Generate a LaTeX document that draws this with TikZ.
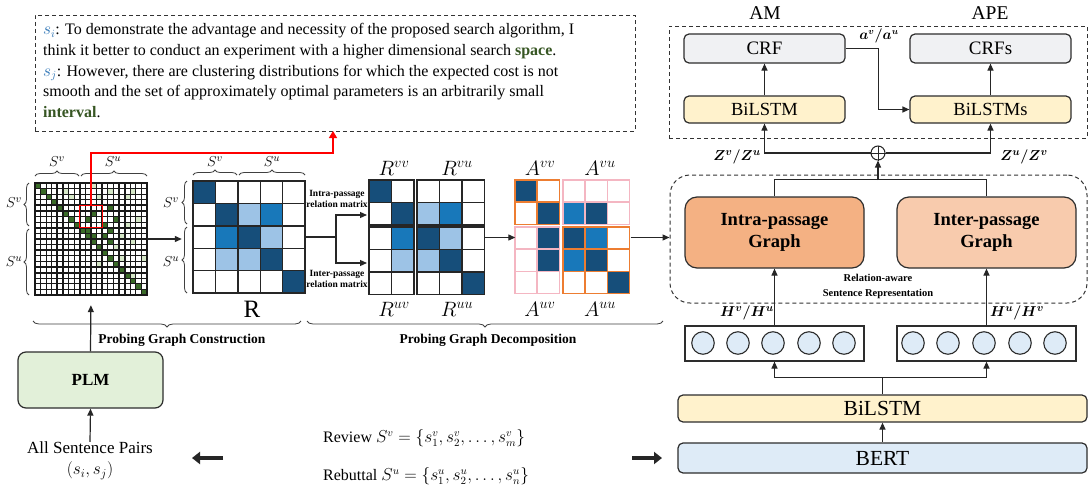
\documentclass[tikz,border=0pt]{standalone}
\usepackage{fontspec}
\setmainfont{Liberation Serif}
\usepackage{bm}
\usetikzlibrary{arrows.meta,decorations.pathreplacing,calc}

\definecolor{dkblue}{RGB}{22,78,122}
\definecolor{mdblue}{RGB}{24,120,186}
\definecolor{ltblue}{RGB}{157,195,230}
\definecolor{gridgreen}{RGB}{58,107,40}
\definecolor{palegreen}{RGB}{214,232,200}
\definecolor{aorange}{RGB}{237,125,49}
\definecolor{apink}{RGB}{244,182,194}
\definecolor{crfgray}{RGB}{240,241,243}
\definecolor{lstmyellow}{RGB}{255,242,204}
\definecolor{intraorange}{RGB}{244,177,131}
\definecolor{interpeach}{RGB}{248,203,173}
\definecolor{cellblue}{RGB}{222,235,247}
\definecolor{plmgreen}{RGB}{226,240,217}
\definecolor{linkblue}{RGB}{46,117,182}
\definecolor{wordgreen}{RGB}{55,86,35}
\definecolor{edge}{RGB}{45,45,45}

% block of square cells: x0, y0, cols, rows, coloured cells, line style, cell size
\newcommand{\matblock}[7]{%
  \fill[white] (#1,#2) rectangle ++({#3*#7},{#4*#7});
  \foreach \cc/\ci/\cj in {#5}{\fill[\cc] ({#1+\ci*#7},{#2+\cj*#7}) rectangle ++(#7,#7);}
  \foreach \k in {0,...,#3}{\draw[#6,line cap=rect] ({#1+\k*#7},#2) -- ++(0,{#4*#7});}
  \foreach \k in {0,...,#4}{\draw[#6,line cap=rect] (#1,{#2+\k*#7}) -- ++({#3*#7},0);}
}

\begin{document}
\begin{tikzpicture}[x=1pt,y=-1pt,
  arr/.style={-{Triangle[length=7pt,width=6pt]},line width=1.2pt,draw=black!85},
  fat/.style={-{Triangle[length=8pt,width=12pt]},line width=4.5pt,draw=black!85},
  box/.style={draw=edge,line width=1.2pt,rounded corners=5pt,inner sep=0pt},
  brc/.style={decorate,decoration={brace,amplitude=5pt},line width=0.8pt,draw=black!75},
  slab/.style={font=\fontsize{15}{15}\selectfont,inner sep=0pt},
  blab/.style={font=\fontsize{20}{20}\selectfont,inner sep=0pt},
  matline/.style={line width=1.4pt,draw=black!85},
  oline/.style={line width=1.6pt,draw=aorange},
  pline/.style={line width=1.6pt,draw=apink},
  dbox/.style={draw=black!80,dashed,dash pattern=on 4pt off 3pt,line width=1pt,inner sep=0pt}]

\useasboundingbox (0,0) rectangle (1088,490);
\fill[white] (0,0) rectangle (1088,490);

% ---------- sentence pair example ----------
\node[dbox,minimum width=600pt,minimum height=116pt] (ctx) at (335,73) {};
\node[anchor=north west,align=left,inner sep=0pt,font=\fontsize{16}{20.8}\selectfont] (ctxtext) at (43,23)
 {{\color{linkblue}$s_i$}: To demonstrate the advantage and necessity of the proposed search algorithm, I\\
  think it better to conduct an experiment with a higher dimensional search \textbf{\color{wordgreen}space}.\\
  {\color{linkblue}$s_j$}: However, there are clustering distributions for which the expected cost is not\\
  smooth and the set of approximately optimal parameters is an arbitrarily small\\
  \textbf{\color{wordgreen}interval}.};

% ---------- probing grid ----------
\fill[white] (35,183) rectangle (147,295);
\foreach \i in {0,...,19}{\fill[gridgreen] ({35+\i*5.6},{183+\i*5.6}) rectangle ++(5.6,5.6);}
\foreach \ci/\cj in {10/5,9/6,12/7,13/4,14/6,13/8,9/8,10/9,12/9,13/10}
  {\fill[gridgreen] ({35+\ci*5.6},{183+\cj*5.6}) rectangle ++(5.6,5.6);}
\foreach \ci/\cj in {5/1,6/2,10/0,13/1,17/1,16/2,11/2,18/6,16/7,15/9,17/10,14/11,19/13,15/13,11/14,17/16}
  {\fill[palegreen] ({35+\ci*5.6},{183+\cj*5.6}) rectangle ++(5.6,5.6);}
\foreach \k in {0,...,20}{
  \draw[line width=1.15pt,black!90] ({35+\k*5.6},183) -- ({35+\k*5.6},295);
  \draw[line width=1.15pt,black!90] (35,{183+\k*5.6}) -- (147,{183+\k*5.6});}
\foreach \k in {0,4,...,20}{
  \draw[line width=2.1pt,black!90,line cap=rect] ({35+\k*5.6},183) -- ({35+\k*5.6},295);
  \draw[line width=2.1pt,black!90,line cap=rect] (35,{183+\k*5.6}) -- (147,{183+\k*5.6});}
\node[inner sep=0pt,minimum size=112pt] (grid) at (91,239) {};
\node[draw=red,line width=1.3pt,minimum size=22.4pt,inner sep=0pt] (redbox) at (91,216.6) {};

\draw[brc] (35,176) -- (79,176);
\draw[brc] (81,176) -- (147,176);
\node[slab] (gsv) at (57,162) {$S^v$};
\node[slab] (gsu) at (113,162) {$S^u$};
\draw[brc] (29,226) -- (29,183);
\draw[brc] (29,295) -- (29,229);
\node[slab] (gsvl) at (14,203) {$S^v$};
\node[slab] (gsul) at (14,262) {$S^u$};

% link from the highlighted cells to the sentence pair
\coordinate (ctxin) at (333,131);
\draw[red,line width=1.2pt,-{Triangle[length=7pt,width=8pt]}] (redbox.north) -- (91,153) -- (333,153) -- (ctxin);

% ---------- relation matrix R ----------
\matblock{193}{181}{5}{5}{dkblue/0/0,dkblue/1/1,ltblue/2/1,mdblue/3/1,mdblue/1/2,dkblue/2/2,ltblue/3/2,ltblue/1/3,ltblue/2/3,dkblue/3/3,dkblue/4/4}{matline}{22.4}
\node[inner sep=0pt,minimum size=112pt] (R) at (249,237) {};
\draw[brc] (193,175) -- (237,175);
\draw[brc] (239,175) -- (305,175);
\node[slab] (rsv) at (215,162) {$S^v$};
\node[slab] (rsu) at (272,162) {$S^u$};
\draw[brc] (187,224) -- (187,181);
\draw[brc] (187,293) -- (187,227);
\node[slab] (rsvl) at (171,203) {$S^v$};
\node[slab] (rsul) at (171,262) {$S^u$};
\node[inner sep=0pt,font=\fontsize{25}{25}\selectfont] (rlab) at (252,309) {R};
\draw[arr,shorten >=11pt] (grid.east) -- (grid.east -| R.west);

% ---------- decomposed blocks ----------
\matblock{369}{180}{2}{2}{dkblue/0/0,dkblue/1/1}{matline}{22.4}
\matblock{417}{180}{3}{2}{ltblue/0/1,mdblue/1/1}{matline}{22.4}
\matblock{369}{227}{2}{3}{mdblue/1/0,ltblue/1/1}{matline}{22.4}
\matblock{417}{227}{3}{3}{dkblue/0/0,ltblue/1/0,ltblue/0/1,dkblue/1/1,dkblue/2/2}{matline}{22.4}
\node[inner sep=0pt,minimum width=115pt,minimum height=115pt] (Rblk) at (427,237.5) {};
\node[blab] (lrvv) at (394,168) {$R^{vv}$};
\node[blab] (lrvu) at (457,168) {$R^{vu}$};
\node[blab] (lruv) at (394,309) {$R^{uv}$};
\node[blab] (lruu) at (457,309) {$R^{uu}$};

\coordinate (split) at (336,237);
\coordinate (intrain) at (367,215);
\coordinate (interin) at (367,263);
\draw[line width=1.8pt,black!85] (R.east) -- (split);
\draw[arr] (split) |- (intrain);
\draw[arr] (split) |- (interin);
\node[align=center,inner sep=0pt,font=\bfseries\fontsize{9.5}{11}\selectfont] (intralab) at (337,199) {Intra-passage\\relation matrix};
\node[align=center,inner sep=0pt,font=\bfseries\fontsize{9.5}{11}\selectfont] (interlab) at (337,279) {Inter-passage\\relation matrix};

% ---------- adjacency blocks ----------
\matblock{515}{180}{2}{2}{dkblue/0/0,dkblue/1/1}{oline}{22.2}
\matblock{563}{180}{3}{2}{mdblue/0/1,dkblue/1/1}{pline}{22.2}
\matblock{515}{227}{2}{3}{dkblue/1/0,dkblue/1/1}{pline}{22.2}
\matblock{563}{227}{3}{3}{dkblue/0/0,mdblue/1/0,mdblue/0/1,dkblue/1/1,dkblue/2/2}{oline}{22.2}
\node[inner sep=0pt,minimum width=115pt,minimum height=115pt] (Ablk) at (573,237.5) {};
\node[blab] (lavv) at (540,168) {$A^{vv}$};
\node[blab] (lavu) at (600,168) {$A^{vu}$};
\node[blab] (lauv) at (540,309) {$A^{uv}$};
\node[blab] (lauu) at (600,309) {$A^{uu}$};
\draw[arr] (Rblk.east) -- (Ablk.west);

% ---------- stage braces ----------
\draw[brc,decoration={brace,amplitude=6pt}] (301,321) -- (33,321);
\node[inner sep=0pt,font=\bfseries\fontsize{13.5}{13.5}\selectfont] (pgc) at (182,340) {Probing Graph Construction};
\draw[brc,decoration={brace,amplitude=6pt}] (663,321) -- (307,321);
\node[inner sep=0pt,font=\bfseries\fontsize{13.5}{13.5}\selectfont] (pgd) at (488,340) {Probing Graph Decomposition};

% ---------- PLM and inputs ----------
\node[box,fill=plmgreen,rounded corners=8pt,minimum width=145pt,minimum height=56pt,font=\bfseries\fontsize{17}{17}\selectfont] (plm) at (90.5,380) {PLM};
\draw[arr,shorten >=10pt] (plm.north) -- (grid.south);
\node[align=center,inner sep=0pt,font=\fontsize{17}{21}\selectfont] (pairs) at (90,461) {All Sentence Pairs\\$(s_i,s_j)$};
\draw[arr] (pairs.north) -- (plm.south);
\node[anchor=west,inner sep=0pt,font=\fontsize{16}{16}\selectfont] (review) at (323,438) {Review $S^v=\{s_1^v,s_2^v,\dots,s_m^v\}$};
\node[anchor=west,inner sep=0pt,font=\fontsize{16}{16}\selectfont] (rebuttal) at (323,476) {Rebuttal $S^u=\{s_1^u,s_2^u,\dots,s_n^u\}$};
\coordinate (fatla) at (223,458);
\coordinate (fatlb) at (192,458);
\coordinate (fatra) at (632,458);
\coordinate (fatrb) at (662,458);
\draw[fat] (fatla) -- (fatlb);
\draw[fat] (fatra) -- (fatrb);

% ---------- AM / APE tagging ----------
\node[dbox,minimum width=418pt,minimum height=112pt] (tagbox) at (878,82) {};
\node[inner sep=0pt,font=\fontsize{19.5}{19.5}\selectfont] (am) at (765,13) {AM};
\node[inner sep=0pt,font=\fontsize{19.5}{19.5}\selectfont] (ape) at (990,13) {APE};
\node[box,fill=crfgray,minimum width=161pt,minimum height=29pt,font=\fontsize{19}{19}\selectfont] (crf) at (764.5,48.5) {CRF};
\node[box,fill=crfgray,minimum width=161pt,minimum height=29pt,font=\fontsize{19}{19}\selectfont] (crfs) at (990.5,48.5) {CRFs};
\node[box,fill=lstmyellow,minimum width=161pt,minimum height=27pt,font=\fontsize{18.5}{18.5}\selectfont] (lstma) at (764.5,109.5) {BiLSTM};
\node[box,fill=lstmyellow,minimum width=161pt,minimum height=27pt,font=\fontsize{18.5}{18.5}\selectfont] (lstmb) at (990.5,109.5) {BiLSTMs};
\draw[arr] (lstma) -- (crf);
\draw[arr] (lstmb) -- (crfs);
\draw[arr] (crf.east) -- ++(33,0) |- (lstmb.west);
\node[inner sep=0pt,font=\fontsize{13.5}{13.5}\selectfont] (alab) at (879,36) {$\bm{a^v/a^u}$};

\node[circle,draw=black!85,line width=1pt,minimum size=14pt,inner sep=0pt] (op) at (878,153) {};
\draw[line width=1pt,black!85] (op.north) -- (op.south) (op.west) -- (op.east);
\draw[arr] (op.west) -| (lstma.south);
\draw[arr] (op.east) -| (lstmb.south);
\node[inner sep=0pt,font=\fontsize{15}{15}\selectfont] (zl) at (737,157) {$\bm{Z^v/Z^u}$};
\node[inner sep=0pt,font=\fontsize{15}{15}\selectfont] (zr) at (1024,157) {$\bm{Z^u/Z^v}$};

% ---------- relation-aware sentence representation ----------
\node[dbox,rounded corners=20pt,minimum width=417pt,minimum height=128pt] (rel) at (878.5,239) {};
\draw[arr] (Ablk.east) -- (Ablk.east -| rel.west);
\node[box,fill=intraorange,rounded corners=12pt,minimum width=179pt,minimum height=71pt,align=center,font=\bfseries\fontsize{18.5}{22}\selectfont] (intra) at (774.5,232.5) {Intra-passage\\Graph};
\node[box,fill=interpeach,rounded corners=12pt,minimum width=179pt,minimum height=71pt,align=center,font=\bfseries\fontsize{18.5}{22}\selectfont] (inter) at (986.5,232.5) {Inter-passage\\Graph};
\draw[line width=1.2pt,black!85] (intra.north) -- ++(0,-17) -| (inter.north);
\coordinate (merge) at (878,180);
\draw[arr] (merge) -- (op.south);
\node[align=center,inner sep=0pt,font=\bfseries\fontsize{10.5}{15}\selectfont] (rellab) at (878,286) {Relation-aware\\Sentence Representation};

% ---------- token vectors ----------
\node[draw=edge,line width=1.2pt,inner sep=0pt,minimum width=179pt,minimum height=35pt] (vecl) at (774.5,343.5) {};
\node[draw=edge,line width=1.2pt,inner sep=0pt,minimum width=179pt,minimum height=35pt] (vecr) at (986.5,343.5) {};
\foreach \cx [count=\n] in {703,738,773,809,844}
  {\node[circle,draw=edge,line width=1.1pt,fill=cellblue,minimum size=22.5pt,inner sep=0pt] (cl\n) at (\cx,343) {};}
\foreach \cx [count=\n] in {913,948,984,1020,1055}
  {\node[circle,draw=edge,line width=1.1pt,fill=cellblue,minimum size=22.5pt,inner sep=0pt] (cr\n) at (\cx,343) {};}
\draw[arr] (vecl.north) -- (intra.south);
\draw[arr] (vecr.north) -- (inter.south);
\node[inner sep=0pt,font=\fontsize{15}{15}\selectfont] (hl) at (747,313) {$\bm{H^v/H^u}$};
\node[inner sep=0pt,font=\fontsize{15}{15}\selectfont] (hr) at (1017,313) {$\bm{H^u/H^v}$};

% ---------- encoder ----------
\node[box,fill=lstmyellow,minimum width=409pt,minimum height=27pt,font=\fontsize{21.5}{21.5}\selectfont] (lstmc) at (882.5,408.5) {BiLSTM};
\node[box,fill=cellblue,minimum width=409pt,minimum height=30pt,font=\fontsize{21.5}{21.5}\selectfont] (bert) at (882.5,458) {BERT};
\draw[arr] (bert.north) -- (lstmc.south);
\draw[line width=1.2pt,black!85] (lstmc.north) -- ++(0,-17) coordinate (fork);
\draw[arr] (fork) -| (vecl.south);
\draw[arr] (fork) -| (vecr.south);

\end{tikzpicture}
\end{document}
